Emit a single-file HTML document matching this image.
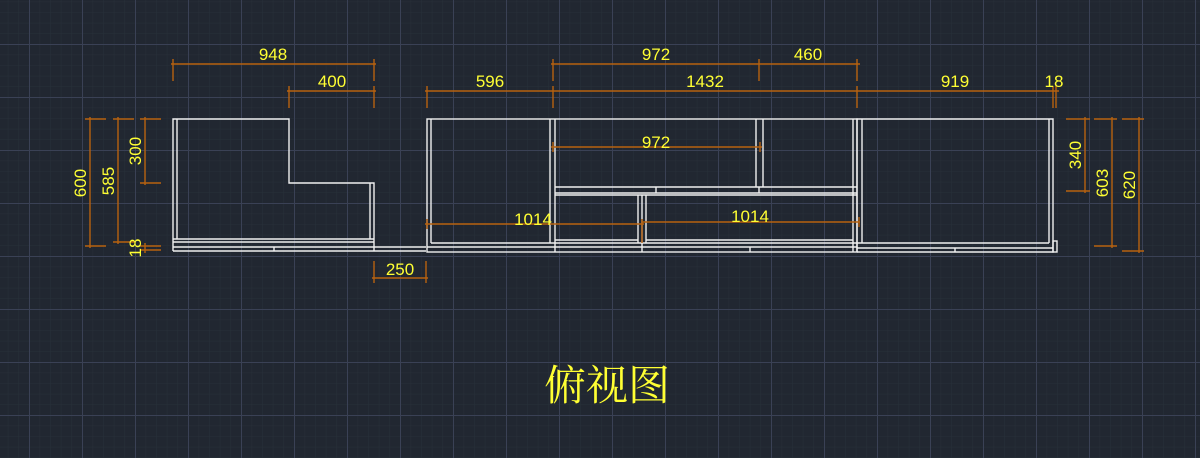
<!DOCTYPE html>
<html><head><meta charset="utf-8"><style>
html,body{margin:0;padding:0;background:#212731;}
svg{display:block}
</style></head><body>
<svg width="1200" height="458" viewBox="0 0 1200 458" xmlns="http://www.w3.org/2000/svg">
<defs>
<pattern id="minor" width="10.6" height="10.6" patternUnits="userSpaceOnUse" x="29" y="44">
<path d="M0 0H10.6M0 0V10.6" stroke="#283039" stroke-width="1" fill="none"/>
</pattern>
<pattern id="major" width="53" height="53" patternUnits="userSpaceOnUse" x="29" y="44">
<path d="M0 0.5H53M0.5 0V53" stroke="#3a4155" stroke-width="1" fill="none"/>
</pattern>
</defs>
<rect width="1200" height="458" fill="#212731"/>
<rect width="1200" height="458" fill="url(#minor)"/>
<rect width="1200" height="458" fill="url(#major)"/>

<g stroke="#f0f0f0" stroke-width="1.4" fill="none">
<path d="M173 251V119H289V183H374V251"/>
<path d="M177 239V119"/>
<path d="M370 239V183"/>
<path d="M173 239H374M173 242H374M173 247H426M173 251H426"/>
<path d="M274 247V251"/>
<rect x="427" y="119" width="430" height="133"/>
<path d="M431 243V119M550 243V119M555 252V119"/>
<path d="M756 187V119M763 187V119"/>
<path d="M853 252V119"/>
<path d="M555 187H857M555 193H857"/>
<path d="M638 243V195M642 252V195M646 243V195"/>
<path d="M555 195H857"/>
<path d="M646 240H853M555 240H638M431 243H857M427 247H857"/>
<path d="M656 187V193M759 193V187M750 247V252"/>
<path d="M857 252V119H1053V252H857"/>
<path d="M862 243V119M1049 243V119"/>
<path d="M857 243H1049M857 248H1053"/>
<rect x="1053" y="241" width="4" height="11"/>
<path d="M955 248V252"/>
</g>

<g stroke="#b8620f" stroke-width="1.4" fill="none">
<path d="M171 64H376M173 59V81M374 59V81"/>
<path d="M287 91H376M289 86V108M374 86V108"/>
<path d="M425 91H1059M427 86V108M553 86V108M857 86V108M1053 86V108M1056 86V108"/>
<path d="M551 64H860M553 59V81M759 59V81M857 59V81"/>
<path d="M551 147H762M553 142V152M760 142V152"/>
<path d="M425 224H644M427 219V229M642 219V243"/>
<path d="M642 222H860M859 217V227"/>
<path d="M372 278H428M374 261V283M426 261V283"/>
<path d="M90 117V248M85 119H106M85 246H106"/>
<path d="M118 117V244M113 119H134M113 242H134"/>
<path d="M145 117V185M140 119H161M140 183H161"/>
<path d="M145 243V253M140 246H161M140 250H161"/>
<path d="M1085 117V193M1066 119H1090M1066 191H1090"/>
<path d="M1112 117V248M1094 119H1117M1094 246H1117"/>
<path d="M1139 117V253M1122 119H1144M1122 251H1144"/>
</g>

<g fill="#ffff33" font-family="Liberation Sans, sans-serif" font-size="17" text-anchor="middle">
<text x="273" y="60">948</text>
<text x="332" y="87">400</text>
<text x="490" y="87">596</text>
<text x="705" y="87">1432</text>
<text x="656" y="60">972</text>
<text x="808" y="60">460</text>
<text x="955" y="87">919</text>
<text x="1054" y="87">18</text>
<text x="656" y="148">972</text>
<text x="533" y="225">1014</text>
<text x="750" y="222">1014</text>
<text x="400" y="275">250</text>
<text transform="translate(86,183) rotate(-90)">600</text>
<text transform="translate(114,181) rotate(-90)">585</text>
<text transform="translate(141,151) rotate(-90)">300</text>
<text transform="translate(141,248) rotate(-90)">18</text>
<text transform="translate(1081,155) rotate(-90)">340</text>
<text transform="translate(1108,183) rotate(-90)">603</text>
<text transform="translate(1135,185) rotate(-90)">620</text>
</g>
<text x="607" y="400" fill="#ffff33" font-family="Noto Serif CJK SC, serif" font-size="42" text-anchor="middle">俯视图</text>
</svg>
</body></html>
